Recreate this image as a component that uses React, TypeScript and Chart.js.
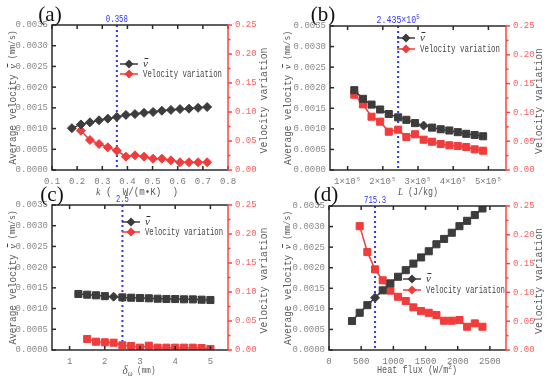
import React, { useEffect, useRef } from "react";
import { Chart, registerables } from "chart.js";

Chart.register(...registerables);

const MONO = "'Liberation Mono', 'DejaVu Sans Mono', monospace";
const SERIF = "'Liberation Serif', 'DejaVu Serif', serif";
const BLACK = "#3c3c3c";
const RED = "#f03c3c";
const BLUE = "#3434ff";

// ---------------- data ----------------
const velTicks = [0, 0.0005, 0.001, 0.0015, 0.002, 0.0025, 0.003, 0.0035];
const varTicks = [0, 0.05, 0.1, 0.15, 0.2, 0.25];

// (a) thermal conductivity k
const kTicks = [0.1, 0.2, 0.3, 0.4, 0.5, 0.6, 0.7, 0.8];
const kValues = [0.179, 0.215, 0.251, 0.287, 0.322, 0.358, 0.394, 0.43, 0.466, 0.502, 0.537, 0.573, 0.609, 0.645, 0.681, 0.717];
const velA = [0.00101, 0.0011, 0.00115, 0.0012, 0.00124, 0.00128, 0.00133, 0.00135, 0.00138, 0.0014, 0.00143, 0.00145, 0.00147, 0.00148, 0.0015, 0.00152];
const varA = [null, 0.0678, 0.0517, 0.0448, 0.0391, 0.0333, 0.023, 0.0253, 0.023, 0.0195, 0.0195, 0.0167, 0.0133, 0.0133, 0.0133, 0.0133];
const kOpt = 0.358;

// (b) latent heat L
const LTicks = [100000, 200000, 300000, 400000, 500000];
const LValues = [119000, 143500, 168000, 192500, 217000, 243500, 267000, 291500, 316000, 340000, 364500, 389000, 413000, 437000, 461000, 485000];
const velB = [0.00194, 0.00173, 0.00159, 0.00147, 0.00136, 0.00128, 0.00122, 0.00114, 0.00108, 0.00103, 0.00099, 0.00096, 0.00092, 0.00088, 0.00085, 0.00082];
const varB = [0.1307, 0.114, 0.0925, 0.0839, 0.0665, 0.07, 0.0573, 0.062, 0.0526, 0.0491, 0.0451, 0.0429, 0.0417, 0.0399, 0.0359, 0.0335];
const LOpt = 243500;

// (c) thickness delta
const deltaTicks = [1, 2, 3, 4, 5];
const deltaValues = [1.25, 1.5, 1.75, 2.0, 2.25, 2.5, 2.75, 3.0, 3.25, 3.5, 3.75, 4.0, 4.25, 4.5, 4.75, 5.0];
const velC = [0.001352, 0.001335, 0.00132, 0.0013, 0.001287, 0.00127, 0.001262, 0.001255, 0.001248, 0.001238, 0.001231, 0.00123, 0.001224, 0.001222, 0.001214, 0.001207];
const varC = [null, 0.019, 0.0143, 0.0133, 0.0126, 0.0081, 0.0069, 0.004, 0.0074, 0.004, 0.004, 0.004, 0.004, 0.004, 0.0034, 0.0017];
const deltaOpt = 2.5;

// (d) heat flux
const fluxTicks = [0, 500, 1000, 1500, 2000, 2500];
const fluxValues = [357.6, 476.8, 596.0, 715.3, 834.5, 953.7, 1072.9, 1192.2, 1311.4, 1430.6, 1549.8, 1669.1, 1788.3, 1907.5, 2026.8, 2146.0, 2265.2, 2384.4];
const velD = [0.000704, 0.000905, 0.00109, 0.00127, 0.00145, 0.00162, 0.00178, 0.00194, 0.0021, 0.00225, 0.0024, 0.00257, 0.0027, 0.00285, 0.00301, 0.00314, 0.00328, 0.00344];
const varD = [null, 0.215, 0.17, 0.14, 0.121, 0.103, 0.0924, 0.085, 0.074, 0.0676, 0.0646, 0.0607, 0.0508, 0.0508, 0.052, 0.0404, 0.0462, 0.0404];
const fluxOpt = 715.3;

// ---------------- helpers ----------------
type Part = { t: string; f: string; c?: string; dy?: number; bar?: boolean };

function drawParts(
  ctx: CanvasRenderingContext2D,
  parts: Part[],
  x: number,
  y: number,
  opts: { rot?: number; width?: number; align?: "left" | "center"; color?: string } = {}
) {
  ctx.save();
  const ws: number[] = [];
  let total = 0;
  for (const p of parts) {
    ctx.font = p.f;
    const w = ctx.measureText(p.t).width;
    ws.push(w);
    total += w;
  }
  const s = opts.width ? opts.width / total : 1;
  ctx.translate(x, y);
  if (opts.rot) ctx.rotate(opts.rot);
  ctx.scale(s, 1);
  ctx.textBaseline = "middle";
  ctx.textAlign = "left";
  let cx = opts.align === "left" ? 0 : -total / 2;
  parts.forEach((p, i) => {
    ctx.font = p.f;
    ctx.fillStyle = p.c || opts.color || "#555";
    const dy = p.dy || 0;
    ctx.fillText(p.t, cx, dy);
    if (p.bar) ctx.fillRect(cx + 1.5, dy - 6, ws[i] - 1, 1);
    cx += ws[i];
  });
  ctx.restore();
}

function markers(n: number, base: string, special: number[]) {
  return Array.from({ length: n }, (_, i) => (special.includes(i) ? "rectRot" : base));
}

type PanelCfg = {
  left: number;
  top: number;
  width: number;
  height: number;
  plot: { l: number; r: number; t: number; b: number };
  xMin: number;
  xMax: number;
  xTicks: number[];
  xFmt: (v: number) => string;
  xs: number[];
  vel: (number | null)[];
  vari: (number | null)[];
  blackStyles: string[];
  redStyles: string[];
  opt: number;
  optLabel: Part[];
  optW: number;
  letter: string;
  letterX: number;
  legend: { x: number; y: number; dy: number; w: number };
  xTitle: Part[];
  xTitleX: number;
  xTitleY: number;
  xTitleW: number;
};

function line(ctx: CanvasRenderingContext2D, x1: number, y1: number, x2: number, y2: number) {
  ctx.beginPath();
  ctx.moveTo(x1, y1);
  ctx.lineTo(x2, y2);
  ctx.stroke();
}

function diamond(ctx: CanvasRenderingContext2D, x: number, y: number, r: number) {
  ctx.beginPath();
  ctx.moveTo(x, y - r);
  ctx.lineTo(x + r, y);
  ctx.lineTo(x, y + r);
  ctx.lineTo(x - r, y);
  ctx.closePath();
  ctx.fill();
}

function makeDecor(cfg: PanelCfg) {
  return {
    id: "decor",
    beforeDatasetsDraw(chart: any) {
      const { ctx, chartArea } = chart;
      const bx = chart.scales.x.getPixelForValue(cfg.opt);
      ctx.save();
      ctx.strokeStyle = BLUE;
      ctx.lineWidth = 2;
      ctx.setLineDash([2, 3]);
      line(ctx, bx, chartArea.top, bx, chartArea.bottom);
      ctx.restore();
    },
    afterDraw(chart: any) {
      const { ctx, chartArea } = chart;
      const { left, right, top, bottom } = chartArea;
      const xs = chart.scales.x;
      const ys = chart.scales.y;
      const y1 = chart.scales.y1;
      ctx.save();
      ctx.lineWidth = 1.5;
      ctx.strokeStyle = "#2a2a2a";
      // inward ticks x
      for (const t of xs.ticks) {
        const px = xs.getPixelForValue(t.value);
        line(ctx, px, bottom, px, bottom - 4);
        line(ctx, px, top, px, top + 4);
      }
      for (const t of ys.ticks) {
        const py = ys.getPixelForValue(t.value);
        line(ctx, left, py, left + 4, py);
      }
      // frame
      line(ctx, left, top, right, top);
      line(ctx, left, top - 0.75, left, bottom + 0.75);
      line(ctx, left, bottom, right, bottom);
      ctx.strokeStyle = "#ff4040";
      line(ctx, right, top - 0.75, right, bottom + 0.75);
      const rt = y1.ticks.map((t: any) => t.value);
      for (let i = 0; i < rt.length; i++) {
        const py = y1.getPixelForValue(rt[i]);
        line(ctx, right, py, right + 4, py);
        if (i < rt.length - 1) {
          const pm = y1.getPixelForValue((rt[i] + rt[i + 1]) / 2);
          line(ctx, right, pm, right + 2.5, pm);
        }
      }
      ctx.restore();

      // panel letter
      drawParts(ctx, [{ t: cfg.letter, f: `21px ${SERIF}`, c: "#111" }], cfg.letterX, 15);
      // optimum label
      const bx = xs.getPixelForValue(cfg.opt);
      drawParts(ctx, cfg.optLabel, bx, top - 6, { width: cfg.optW, color: BLUE });

      // axis titles
      const mid = (top + bottom) / 2;
      drawParts(
        ctx,
        [
          { t: "Average velocity ", f: `10px ${MONO}` },
          { t: "v", f: `italic 11px ${SERIF}`, bar: true, c: "#444" },
          { t: " (mm/s)", f: `8.5px ${MONO}` },
        ],
        13,
        mid,
        { rot: -Math.PI / 2, width: 134, color: "#5a5a5a" }
      );
      drawParts(ctx, [{ t: "Velocity variation", f: `10px ${MONO}` }], cfg.width - 11, mid + 3, {
        rot: -Math.PI / 2,
        width: 106,
        color: "#5a5a5a",
      });
      drawParts(ctx, cfg.xTitle, cfg.xTitleX, cfg.xTitleY, { width: cfg.xTitleW, color: "#5a5a5a" });

      // legend
      const lg = cfg.legend;
      const rows: { color: string; parts: Part[]; w?: number }[] = [
        { color: BLACK, parts: [{ t: "v", f: `italic 11px ${SERIF}`, bar: true, c: "#333" }] },
        { color: RED, parts: [{ t: "Velocity variation", f: `10px ${MONO}`, c: "#444" }], w: lg.w },
      ];
      rows.forEach((r, i) => {
        const yy = lg.y + i * lg.dy;
        ctx.save();
        ctx.strokeStyle = r.color;
        ctx.fillStyle = r.color;
        ctx.lineWidth = 1.5;
        line(ctx, lg.x, yy, lg.x + 18, yy);
        diamond(ctx, lg.x + 9, yy, 4.5);
        ctx.restore();
        drawParts(ctx, r.parts, lg.x + 23, yy, { align: "left", width: r.w });
      });
    },
  };
}

function Panel({ cfg }: { cfg: PanelCfg }) {
  const ref = useRef<HTMLCanvasElement>(null);
  useEffect(() => {
    const radius = (s: string[]) => s.map((p) => (p === "rect" ? 5 : 4.5));
    const chart = new Chart(ref.current as HTMLCanvasElement, {
      type: "line",
      data: {
        datasets: [
          {
            label: "v",
            data: cfg.xs.map((x, i) => ({ x, y: cfg.vel[i] })) as any,
            yAxisID: "y",
            borderColor: BLACK,
            backgroundColor: BLACK,
            pointBackgroundColor: BLACK,
            pointBorderColor: BLACK,
            borderWidth: 1.5,
            pointBorderWidth: 1,
            pointStyle: cfg.blackStyles as any,
            pointRadius: radius(cfg.blackStyles) as any,
            tension: 0,
          },
          {
            label: "Velocity variation",
            data: cfg.xs.map((x, i) => ({ x, y: cfg.vari[i] })) as any,
            yAxisID: "y1",
            borderColor: RED,
            backgroundColor: RED,
            pointBackgroundColor: RED,
            pointBorderColor: RED,
            borderWidth: 1.5,
            pointBorderWidth: 1,
            pointStyle: cfg.redStyles as any,
            pointRadius: radius(cfg.redStyles) as any,
            tension: 0,
          },
        ],
      },
      options: {
        responsive: false,
        animation: false,
        devicePixelRatio: 1,
        layout: { padding: { top: cfg.plot.t, left: 0, right: 0, bottom: 0 } },
        plugins: { legend: { display: false }, tooltip: { enabled: false } },
        scales: {
          x: {
            type: "linear",
            position: "bottom",
            min: cfg.xMin,
            max: cfg.xMax,
            afterBuildTicks: (s: any) => {
              s.ticks = cfg.xTicks.map((v) => ({ value: v }));
            },
            afterFit: (s: any) => {
              s.height = cfg.height - cfg.plot.b;
            },
            grid: { display: false, drawTicks: false },
            border: { display: false },
            ticks: {
              color: "#7a7a7a",
              font: { family: MONO, size: 9 },
              padding: 6,
              maxRotation: 0,
              autoSkip: false,
              callback: (v: any) => cfg.xFmt(Number(v)),
            },
          },
          y: {
            type: "linear",
            position: "left",
            min: 0,
            max: 0.0035,
            afterBuildTicks: (s: any) => {
              s.ticks = velTicks.map((v) => ({ value: v }));
            },
            afterFit: (s: any) => {
              s.width = cfg.plot.l;
            },
            grid: { display: false, drawTicks: false },
            border: { display: false },
            ticks: {
              color: "#8a8a8a",
              font: { family: MONO, size: 9 },
              padding: 4,
              callback: (v: any) => Number(v).toFixed(4),
            },
          },
          y1: {
            type: "linear",
            position: "right",
            min: 0,
            max: 0.25,
            afterBuildTicks: (s: any) => {
              s.ticks = varTicks.map((v) => ({ value: v }));
            },
            afterFit: (s: any) => {
              s.width = cfg.width - cfg.plot.r;
            },
            grid: { display: false, drawTicks: false },
            border: { display: false },
            ticks: {
              color: "#ff5c5c",
              font: { family: MONO, size: 9 },
              padding: 7,
              callback: (v: any) => Number(v).toFixed(2),
            },
          },
        },
      },
      plugins: [makeDecor(cfg) as any],
    });
    return () => chart.destroy();
  }, []);
  return (
    <canvas
      ref={ref}
      width={cfg.width}
      height={cfg.height}
      style={{ position: "absolute", left: cfg.left, top: cfg.top, width: cfg.width, height: cfg.height }}
    />
  );
}

const sup = (t: string): Part => ({ t, f: `7px ${MONO}`, dy: -3 });

const panels: PanelCfg[] = [
  {
    left: 0,
    top: 0,
    width: 275,
    height: 200,
    plot: { l: 52, r: 228, t: 25, b: 170 },
    xMin: 0.1,
    xMax: 0.8,
    xTicks: kTicks,
    xFmt: (v) => v.toFixed(1),
    xs: kValues,
    vel: velA,
    vari: varA,
    blackStyles: markers(kValues.length, "rectRot", []),
    redStyles: markers(kValues.length, "rectRot", []),
    opt: kOpt,
    optLabel: [{ t: "0.358", f: `10px ${MONO}` }],
    optW: 22,
    letter: "(a)",
    letterX: 50,
    legend: { x: 120, y: 64, dy: 10, w: 79 },
    xTitle: [
      { t: "k", f: `italic 11px ${SERIF}` },
      { t: " (  W/(m\u2022K)  )", f: `10px ${MONO}` },
    ],
    xTitleX: 137,
    xTitleY: 192,
    xTitleW: 82,
  },
  {
    left: 275,
    top: 0,
    width: 275,
    height: 200,
    plot: { l: 55, r: 231, t: 26, b: 170 },
    xMin: 50000,
    xMax: 550000,
    xTicks: LTicks,
    xFmt: (v) => `${Math.round(v / 100000)}\u00d710\u2075`,
    xs: LValues,
    vel: velB,
    vari: varB,
    blackStyles: markers(LValues.length, "rect", [8]),
    redStyles: markers(LValues.length, "rect", []),
    opt: LOpt,
    optLabel: [{ t: "2.435\u00d710", f: `10px ${MONO}` }, sup("5")],
    optW: 43,
    letter: "(b)",
    letterX: 48,
    legend: { x: 122, y: 38, dy: 11, w: 80 },
    xTitle: [
      { t: "L", f: `italic 11px ${SERIF}` },
      { t: " (J/kg)", f: `10px ${MONO}` },
    ],
    xTitleX: 143,
    xTitleY: 192,
    xTitleW: 40,
  },
  {
    left: 0,
    top: 180,
    width: 275,
    height: 200,
    plot: { l: 52, r: 228, t: 25, b: 170 },
    xMin: 0.5,
    xMax: 5.5,
    xTicks: deltaTicks,
    xFmt: (v) => String(v),
    xs: deltaValues,
    vel: velC,
    vari: varC,
    blackStyles: markers(deltaValues.length, "rect", [4]),
    redStyles: markers(deltaValues.length, "rect", []),
    opt: deltaOpt,
    optLabel: [{ t: "2.5", f: `10px ${MONO}` }],
    optW: 13,
    letter: "(c)",
    letterX: 52,
    legend: { x: 122, y: 42, dy: 10, w: 78 },
    xTitle: [
      { t: "\u03b4", f: `italic 13px ${SERIF}` },
      { t: "\u03c9", f: `italic 8px ${SERIF}`, dy: 3 },
      { t: " (mm)", f: `9px ${MONO}` },
    ],
    xTitleX: 139,
    xTitleY: 191,
    xTitleW: 33,
  },
  {
    left: 275,
    top: 180,
    width: 275,
    height: 200,
    plot: { l: 54, r: 231, t: 26, b: 170 },
    xMin: 0,
    xMax: 2750,
    xTicks: fluxTicks,
    xFmt: (v) => String(v),
    xs: fluxValues,
    vel: velD,
    vari: varD,
    blackStyles: markers(fluxValues.length, "rect", [3]),
    redStyles: markers(fluxValues.length, "rect", []),
    opt: fluxOpt,
    optLabel: [{ t: "715.3", f: `10px ${MONO}` }],
    optW: 22,
    letter: "(d)",
    letterX: 51,
    legend: { x: 128, y: 99, dy: 11, w: 79 },
    xTitle: [
      { t: "Heat flux (W/m", f: `10px ${MONO}` },
      sup("2"),
      { t: ")", f: `10px ${MONO}` },
    ],
    xTitleX: 142,
    xTitleY: 190,
    xTitleW: 80,
  },
];

export default function App() {
  return (
    <div style={{ position: "fixed", left: 0, top: 0, width: 550, height: 380, background: "#fff" }}>
      {panels.map((p) => (
        <Panel key={p.letter} cfg={p} />
      ))}
    </div>
  );
}
